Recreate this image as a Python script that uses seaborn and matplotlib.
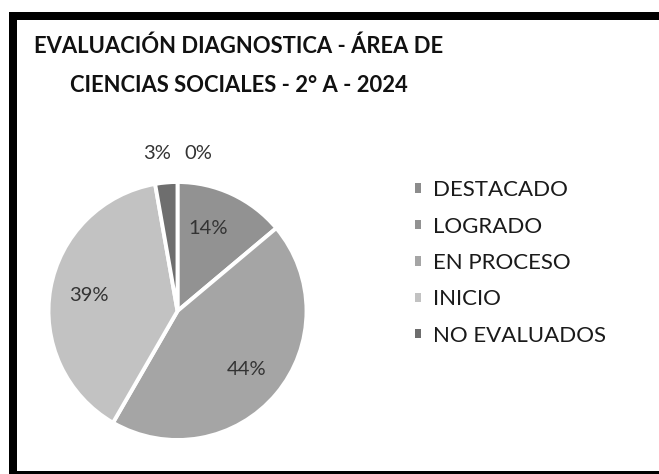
import matplotlib
matplotlib.use("Agg")
import matplotlib.pyplot as plt
import seaborn as sns
from matplotlib.patches import Rectangle, Patch

categories = ["DESTACADO", "LOGRADO", "EN PROCESO", "INICIO", "NO EVALUADOS"]
counts = [0, 5, 16, 14, 1]
title = "EVALUACIÓN DIAGNOSTICA - ÁREA DE\nCIENCIAS SOCIALES - 2° A - 2024"

sns.set_theme(style="white")
plt.rcParams['font.family'] = ['Lato', 'DejaVu Sans']
colors = sns.color_palette(["#8c8c8c", "#929292", "#a5a5a5", "#c2c2c2", "#6e6e6e"])

fig = plt.figure(figsize=(6.59, 4.74), dpi=100)
ax = fig.add_axes([48/659, 1 - 440/474, 259/659, 258/474])

wedges, texts, autotexts = ax.pie(
    counts, colors=colors, startangle=90, counterclock=False,
    autopct=lambda p: f"{p:.0f}%", pctdistance=0.70,
    wedgeprops=dict(edgecolor="white", linewidth=2.8),
    textprops=dict(fontsize=14.5, color="#333333"))
ax.set_aspect("equal")
ax.set_xlim(-1.0, 1.0)
ax.set_ylim(-1.0, 1.0)

# small slices: labels outside, at top
autotexts[0].set_position((0.16, 1.22))
autotexts[4].set_position((-0.16, 1.22))
autotexts[1].set_position((0.235, 0.64))

handles = [Patch(facecolor=w.get_facecolor(), edgecolor="none") for w in wedges]
leg = fig.legend(handles, categories, loc="center left",
                 bbox_to_anchor=(415/659, 1 - 263/474), frameon=False,
                 borderpad=0, borderaxespad=0,
                 fontsize=16, handlelength=0.26, handleheight=0.26,
                 handletextpad=0.55, labelspacing=0.74, labelcolor="#1a1a1a")

fig.text(239/659, 1 - 66/474, title, ha="center", va="center",
         fontsize=15.8, fontweight="bold", color="#111111", linespacing=2.05)

# frame
fig.add_artist(Rectangle((9/659, 0), 8/659, 1 - 12/474, transform=fig.transFigure,
                         facecolor="black", edgecolor="none"))
fig.add_artist(Rectangle((9/659, 1 - 20/474), 1, 8/474, transform=fig.transFigure,
                         facecolor="black", edgecolor="none"))
fig.add_artist(Rectangle((9/659, 0), 1, 3/474, transform=fig.transFigure,
                         facecolor="black", edgecolor="none"))

fig.savefig("out.png", dpi=100)
